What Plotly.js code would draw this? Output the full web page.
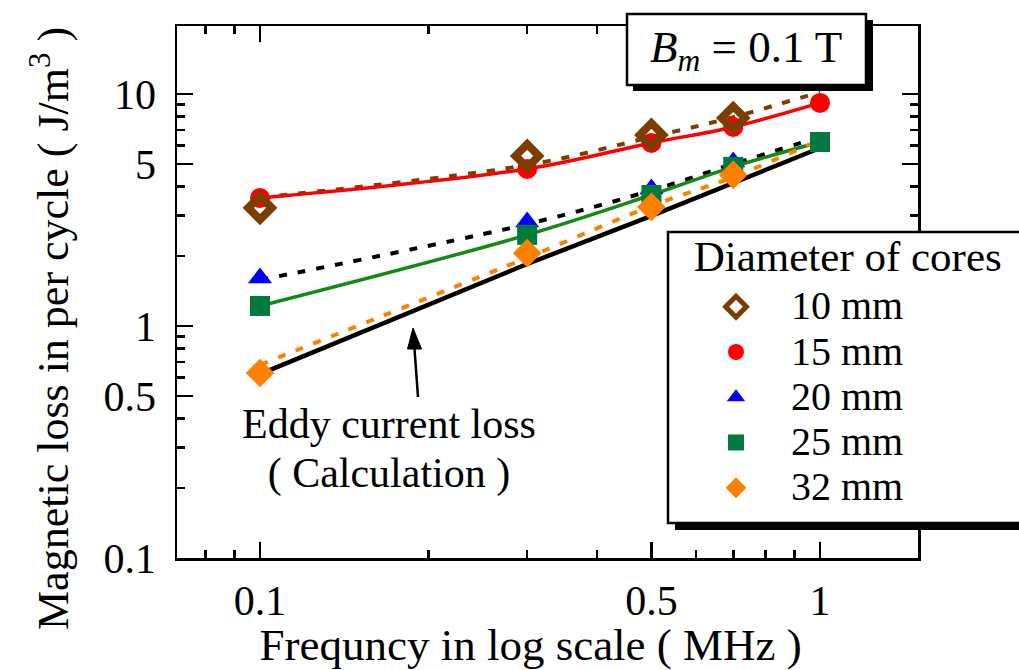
<!DOCTYPE html>
<html>
<head>
<meta charset="utf-8">
<script src="https://cdn.plot.ly/plotly-3.0.1.min.js"></script>
<style>html,body{margin:0;padding:0;background:#fff;}#chart{width:1019px;height:670px;}</style>
</head>
<body>
<div id="chart"></div>
<script>
// ---- data ----
const freq = [0.1, 0.3, 0.5, 0.7, 1.0];
const freq4 = [0.1, 0.3, 0.5, 0.7];
const loss10mm = [3.23, 5.41, 6.66, 7.88];
const loss15mm = [3.56, 4.75, 6.15, 7.21, 9.15];
const loss20mm = [1.61, 2.81, 3.89, 5.09];
const loss25mm = [1.22, 2.47, 3.67, 4.85, 6.21];
const loss32mm = [0.627, 2.06, 3.26, 4.48];
const fit10mm = [3.58, 4.94, 6.53, 7.95, 10.2];
const fit20mm = [1.58, 2.75, 3.84, 4.99, 6.53];
const fit32mm = [0.68, 1.97, 3.29, 4.39, 6.34];
const eddyLoss = [0.62, 1.85, 2.98, 4.13, 5.85];
const seriesNames = ['10 mm', '15 mm', '20 mm', '25 mm', '32 mm'];
const xMajor = [0.1, 0.5, 1];
const xMajorText = ['0.1', '0.5', '1'];
const xMinor = [0.08, 0.09, 0.2, 0.3, 0.4, 0.6, 0.7, 0.8, 0.9];
const yMajor = [0.1, 0.5, 1, 5, 10];
const yMajorText = ['0.1', '0.5', '1', '5', '10'];
const yMinor = [0.2, 0.3, 0.4, 0.6, 0.7, 0.8, 0.9, 2, 3, 4, 6, 7, 8, 9];

const FONT = 'Liberation Serif, Times New Roman, serif';
const cBrown = '#7a3e00', cRed = '#ff0000', cBlue = '#0000ff', cGreen = '#007a3d', cGreenLine = '#138a13', cOrange = '#ff8000';
const big = (s, sz) => '<span style="font-size:' + sz + 'px">' + s + '</span>';
const legName = s => big(s, 40);

const traces = [
  // fitted / calculated curves
  {x: freq, y: fit10mm, mode: 'lines', line: {color: cBrown, width: 4, dash: '8px,11px', shape: 'spline'}, showlegend: false, hoverinfo: 'skip'},
  {x: freq, y: loss15mm, mode: 'lines', line: {color: cRed, width: 3.5, shape: 'spline'}, showlegend: false, hoverinfo: 'skip'},
  {x: freq, y: fit20mm, mode: 'lines', line: {color: '#000000', width: 4, dash: '8px,11px', shape: 'spline'}, showlegend: false, hoverinfo: 'skip'},
  {x: freq, y: loss25mm, mode: 'lines', line: {color: cGreenLine, width: 3.5, shape: 'spline'}, showlegend: false, hoverinfo: 'skip'},
  {x: freq, y: fit32mm, mode: 'lines', line: {color: cOrange, width: 4, dash: '8px,11px', shape: 'spline'}, showlegend: false, hoverinfo: 'skip'},
  {x: freq, y: eddyLoss, mode: 'lines', line: {color: '#000000', width: 4.5}, showlegend: false, hoverinfo: 'skip'},
  // measured points
  {x: freq, y: loss15mm, mode: 'markers', name: legName(seriesNames[1]), legendrank: 2, marker: {symbol: 'circle', size: 20, color: cRed}},
  {x: freq4, y: loss20mm, mode: 'markers', name: legName(seriesNames[2]), legendrank: 3, marker: {symbol: 'triangle-up', size: 21, color: cBlue}},
  {x: freq, y: loss25mm, mode: 'markers', name: legName(seriesNames[3]), legendrank: 4, marker: {symbol: 'square', size: 20, color: cGreen}},
  {x: freq4, y: loss32mm, mode: 'markers', name: legName(seriesNames[4]), legendrank: 5, marker: {symbol: 'diamond', size: 22, color: cOrange}},
  {x: freq4, y: loss10mm, mode: 'markers', name: legName(seriesNames[0]), legendrank: 1, marker: {symbol: 'diamond-open', size: 18, color: cBrown, line: {width: 8, color: cBrown}}}
];

const W = 741, H = 532, L0 = 177, B0 = 558;
const px = v => (v - L0) / W;
const py = v => (B0 - v) / H;

// arrow geometry (pixels) for the "Eddy current loss" pointer
const tip = [413, 328], tail = [418, 397];

const layout = {
  width: 1019, height: 670,
  margin: {l: 177, r: 101, t: 26, b: 112, autoexpand: false},
  paper_bgcolor: '#ffffff', plot_bgcolor: '#ffffff',
  font: {family: FONT, color: '#000000', size: 40},
  showlegend: true,
  legend: {
    x: px(681), y: py(218), xanchor: 'left', yanchor: 'top',
    bgcolor: 'rgba(0,0,0,0)', borderwidth: 0,
    font: {family: FONT, size: 32.5, color: '#000'},
    title: {text: '<span style="font-size:43px;baseline-shift:8px">&nbsp;Diameter of cores</span>', font: {family: FONT, size: 47, color: '#000'}},
    itemwidth: 100, traceorder: 'normal'
  },
  xaxis: {
    type: 'log', range: [-1.1482, 0.175],
    showline: true, linecolor: '#000', linewidth: 2.5, mirror: 'ticks',
    ticks: 'inside', ticklen: 16, tickwidth: 2.5, tickcolor: '#000',
    tickmode: 'array', tickvals: xMajor, ticktext: xMajorText,
    minor: {tickmode: 'array', tickvals: xMinor, ticks: 'inside', ticklen: 8, tickwidth: 2.5, tickcolor: '#000', showgrid: false},
    showgrid: false, zeroline: false,
    tickfont: {family: FONT, size: 42}, ticklabelstandoff: 4,
    title: {text: 'Frequncy in log scale ( MHz )&nbsp;&nbsp;&nbsp;', font: {family: FONT, size: 45}, standoff: 6}
  },
  yaxis: {
    type: 'log', range: [-1, 1.293],
    showline: true, linecolor: '#000', linewidth: 2.5, mirror: 'ticks',
    ticks: 'inside', ticklen: 16, tickwidth: 2.5, tickcolor: '#000',
    tickmode: 'array', tickvals: yMajor, ticktext: yMajorText,
    minor: {tickmode: 'array', tickvals: yMinor, ticks: 'inside', ticklen: 8, tickwidth: 2.5, tickcolor: '#000', showgrid: false},
    showgrid: false, zeroline: false,
    tickfont: {family: FONT, size: 42}, ticklabelstandoff: 10
  },
  shapes: [
    // B_m box shadow + box
    {type: 'rect', xref: 'paper', yref: 'paper', x0: px(633), x1: px(873), y0: py(91), y1: py(20), fillcolor: '#000', line: {width: 0}, layer: 'above'},
    {type: 'rect', xref: 'paper', yref: 'paper', x0: px(627), x1: px(866), y0: py(85), y1: py(14), fillcolor: '#fff', line: {color: '#000', width: 2.5}, layer: 'above'},
    // legend box shadow + box
    {type: 'rect', xref: 'paper', yref: 'paper', x0: px(675), x1: px(1040), y0: py(530), y1: py(239), fillcolor: '#000', line: {width: 0}, layer: 'above'},
    {type: 'rect', xref: 'paper', yref: 'paper', x0: px(668), x1: px(1035), y0: py(523), y1: py(232), fillcolor: '#fff', line: {color: '#000', width: 2.5}, layer: 'above'},
    // arrow shaft + head
    {type: 'line', xref: 'paper', yref: 'paper', x0: px(tail[0]), y0: py(tail[1]), x1: px(414.3), y1: py(346), line: {color: '#000', width: 2.5}, layer: 'above'},
    {type: 'path', xref: 'paper', yref: 'paper', layer: 'above', fillcolor: '#000', line: {color: '#000', width: 1},
     path: 'M' + px(tip[0]) + ',' + py(tip[1]) + ' L' + px(407.5) + ',' + py(349) + ' L' + px(421.5) + ',' + py(349) + ' Z'}
  ],
  annotations: [
    // y-axis title (placed as in the reference, slightly below the axis centre)
    {xref: 'paper', yref: 'paper', x: px(50), y: py(329), xanchor: 'center', yanchor: 'middle', showarrow: false, textangle: -90,
     text: 'Magnetic loss in per cycle ( J/m<sup>3</sup> )', font: {family: FONT, size: 44, color: '#000'}},
    {xref: 'paper', yref: 'paper', x: px(746), y: py(50), xanchor: 'center', yanchor: 'middle', showarrow: false,
     text: '<i>B</i><sub><i>m</i></sub> = 0.1 T', font: {family: FONT, size: 45, color: '#000'}},
    {xref: 'paper', yref: 'paper', x: px(389), y: py(449), xanchor: 'center', yanchor: 'middle', showarrow: false,
     text: big('Eddy current loss', 42) + '<br>' + big('( Calculation )', 42), font: {family: FONT, size: 37.5, color: '#000'}}
  ]
};

Plotly.newPlot('chart', traces, layout, {staticPlot: true, displayModeBar: false});
</script>
</body>
</html>
